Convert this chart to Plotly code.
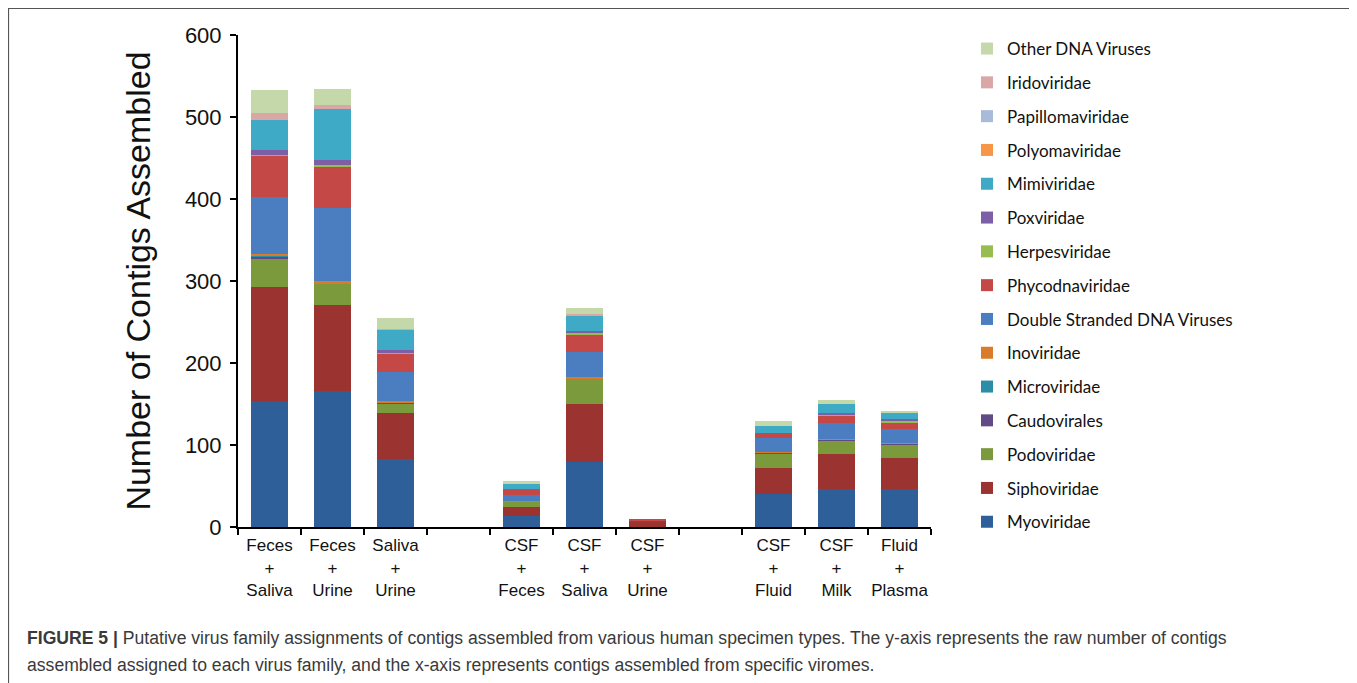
import plotly.graph_objects as go

# Category slots (two empty spacer slots separate the groups)
categories = [
    "Feces<br>+<br>Saliva", "Feces<br>+<br>Urine", "Saliva<br>+<br>Urine", " ",
    "CSF<br>+<br>Feces", "CSF<br>+<br>Saliva", "CSF<br>+<br>Urine", "  ",
    "CSF<br>+<br>Fluid", "CSF<br>+<br>Milk", "Fluid<br>+<br>Plasma",
]

# Series values (None = empty spacer slot)
myoviridae       = [154, 166, 83, None, 13, 79, 0, None, 40, 46, 46]
siphoviridae     = [139, 105, 56, None, 11, 71, 7, None, 32, 43, 38]
podoviridae      = [35, 26, 11, None, 7, 31, 0, None, 18, 17, 17]
caudovirales     = [2, 0.5, 2, None, 0.5, 0.5, 1, None, 1, 0.5, 0.5]
microviridae     = [0.5, 0, 0, None, 0, 0, 0, None, 0, 0, 0]
inoviridae       = [2, 2, 2, None, 0.5, 1, 0, None, 1, 1, 1.5]
ds_dna_viruses   = [70, 90, 35, None, 7, 31, 0, None, 16, 19, 17]
phycodnaviridae  = [50, 50, 22, None, 7, 21, 1, None, 7, 9, 7]
herpesviridae    = [1, 2, 1, None, 0, 3, 0, None, 0, 2, 2]
poxviridae       = [6, 6, 4, None, 0.5, 2, 0, None, 0, 2, 3]
mimiviridae      = [37, 62, 25, None, 7, 19, 0, None, 8, 10, 7]
polyomaviridae   = [0, 0, 0, None, 0, 0, 0, None, 0, 0, 0]
papillomaviridae = [0, 0, 0, None, 0, 0, 0, None, 0, 0, 0]
iridoviridae     = [8, 5, 1, None, 0, 1, 0, None, 0, 0, 0]
other_dna        = [29, 20, 13, None, 2, 8, 0, None, 6.5, 5, 3]

series_names = [
    "Myoviridae", "Siphoviridae", "Podoviridae", "Caudovirales", "Microviridae",
    "Inoviridae", "Double Stranded DNA Viruses", "Phycodnaviridae", "Herpesviridae",
    "Poxviridae", "Mimiviridae", "Polyomaviridae", "Papillomaviridae",
    "Iridoviridae", "Other DNA Viruses",
]
series_values = [
    myoviridae, siphoviridae, podoviridae, caudovirales, microviridae,
    inoviridae, ds_dna_viruses, phycodnaviridae, herpesviridae,
    poxviridae, mimiviridae, polyomaviridae, papillomaviridae,
    iridoviridae, other_dna,
]
series_colors = [
    "#2F5F98", "#9B3331", "#7A9A3C", "#624A86", "#2B8EA6",
    "#D97B28", "#4A7EC1", "#C44845", "#97BC50",
    "#7D5FA7", "#3EAAC6", "#F79646", "#A8BBDB",
    "#DBA6A6", "#C5D8A9",
]

n = len(series_names)
fig = go.Figure()
for i, (name, vals, col) in enumerate(zip(series_names, series_values, series_colors)):
    fig.add_trace(go.Bar(
        x=categories, y=vals, name=name,
        marker=dict(color=col, line=dict(width=0)),
        width=0.59, legendgroup=f"g{i}", legendrank=n - i,
    ))

# The page body adds an 8px offset; work in screen pixels and subtract it
O = 8
W, H = 1357 - O, 683 - O
L, R, T, B = 238 - O, 931 - O, 35 - O, 527 - O
pw, ph = R - L, B - T

def px(x):
    return (x - O - L) / pw

def py(y):
    return (B - (y - O)) / ph

fig.update_layout(
    width=W, height=H,
    margin=dict(l=L, r=W - R, t=T, b=H - B, pad=0, autoexpand=False),
    barmode="stack",
    plot_bgcolor="white", paper_bgcolor="white",
    font=dict(family="Liberation Sans, Arial, sans-serif", color="#111111"),
    showlegend=True,
    legend=dict(
        traceorder="grouped", tracegroupgap=8.7,
        x=px(967), y=py(31), xanchor="left", yanchor="top",
        font=dict(family="Lato, sans-serif", size=17, color="#111111"),
        itemwidth=30, bgcolor="rgba(0,0,0,0)", maxheight=650,
    ),
    xaxis=dict(
        type="category", categoryorder="array", categoryarray=categories,
        tickson="boundaries", ticks="outside", ticklen=6, tickwidth=2,
        tickcolor="black", showline=True, linecolor="black", linewidth=2,
        tickangle=0, ticklabelstandoff=2,
        tickfont=dict(size=17, family="Liberation Sans, Arial, sans-serif"),
        showgrid=False, range=[-0.5, 10.5], fixedrange=True,
    ),
    yaxis=dict(
        range=[0, 600], dtick=100, ticks="outside", ticklen=6, tickwidth=2,
        tickcolor="black", showline=True, linecolor="black", linewidth=2,
        showgrid=False, zeroline=False, ticklabelstandoff=4,
        tickfont=dict(size=22, family="Liberation Sans, Arial, sans-serif"),
        title=dict(text="Number of Contigs Assembled",
                   font=dict(size=34, family="Liberation Sans, Arial, sans-serif"),
                   standoff=24),
    ),
)

# Frame around the figure
fig.add_shape(type="rect", xref="paper", yref="paper",
              x0=px(8.5), x1=px(1353.5), y0=py(700), y1=py(8.5),
              line=dict(color="#555555", width=1.2), fillcolor="rgba(0,0,0,0)")

cap_font = dict(family="Liberation Sans, Arial, sans-serif", size=17.6, color="#3a3a3a")
fig.add_annotation(
    xref="paper", yref="paper", x=px(25), y=py(638), xanchor="left", yanchor="middle",
    showarrow=False, align="left", font=cap_font,
    text="<b>FIGURE 5 |</b> Putative virus family assignments of contigs assembled from various human specimen types. "
         "The y-axis represents the raw number of contigs",
)
fig.add_annotation(
    xref="paper", yref="paper", x=px(25), y=py(665), xanchor="left", yanchor="middle",
    showarrow=False, align="left", font=cap_font,
    text="assembled assigned to each virus family, and the x-axis represents contigs assembled from specific viromes.",
)

fig.write_html("out.html")
